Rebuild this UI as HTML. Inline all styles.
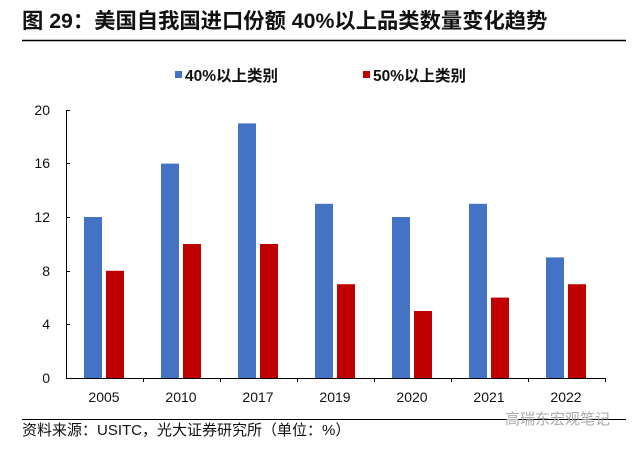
<!DOCTYPE html>
<html><head><meta charset="utf-8"><style>
body{margin:0;background:#fff;}
svg text{font-family:"Liberation Sans","Noto Sans CJK SC",sans-serif;}
</style></head><body>
<svg width="640" height="445" xmlns="http://www.w3.org/2000/svg">
<text x="22" y="28" font-size="21.3" font-weight="bold" fill="#111">图 29：美国自我国进口份额 40%以上品类数量变化趋势</text>
<line x1="22" y1="40.5" x2="626" y2="40.5" stroke="#000" stroke-width="1.5"/>
<rect x="175" y="71" width="7" height="7" fill="#4472C4"/>
<text x="185" y="81" font-size="15.5" font-weight="bold" fill="#111">40%以上类别</text>
<rect x="363" y="71" width="7" height="7" fill="#C00000"/>
<text x="373" y="81" font-size="15.5" font-weight="bold" fill="#111">50%以上类别</text>
<g font-size="14" fill="#111" text-anchor="end">
<text x="50" y="115">20</text><text x="50" y="168">16</text><text x="50" y="222">12</text>
<text x="50" y="276">8</text><text x="50" y="329">4</text><text x="50" y="383">0</text>
</g>
<g stroke="#000" stroke-width="1" fill="none">
<path d="M70 110.5H66.5V378.5H606"/>
<path d="M66.5 163.5H70M66.5 217.5H70M66.5 271.5H70M66.5 324.5H70"/>
<path d="M143.5 378v4M220.5 378v4M297.5 378v4M374.5 378v4M451.5 378v4M528.5 378v4M605.5 378v4"/>
</g>
<g fill="#4472C4">
<rect x="84" y="217" width="18" height="161"/>
<rect x="161" y="163.6" width="18" height="214.4"/>
<rect x="238" y="123.4" width="18" height="254.6"/>
<rect x="315" y="203.8" width="18" height="174.2"/>
<rect x="392" y="217" width="18" height="161"/>
<rect x="469" y="203.8" width="18" height="174.2"/>
<rect x="546" y="257.4" width="18" height="120.6"/>
</g>
<g fill="#C00000">
<rect x="106" y="270.8" width="18" height="107.2"/>
<rect x="183" y="244" width="18" height="134"/>
<rect x="260" y="244" width="18" height="134"/>
<rect x="337" y="284.2" width="18" height="93.8"/>
<rect x="414" y="311" width="18" height="67"/>
<rect x="491" y="297.6" width="18" height="80.4"/>
<rect x="568" y="284.2" width="18" height="93.8"/>
</g>
<g font-size="14" fill="#111" text-anchor="middle">
<text x="104" y="402">2005</text><text x="181" y="402">2010</text><text x="258" y="402">2017</text>
<text x="335" y="402">2019</text><text x="412" y="402">2020</text><text x="489" y="402">2021</text><text x="566" y="402">2022</text>
</g>
<line x1="22" y1="419.5" x2="626" y2="419.5" stroke="#000" stroke-width="1"/>
<text x="22" y="435" font-size="15" fill="#111">资料来源：USITC，光大证券研究所（单位：%）</text>
<text x="505" y="424" font-size="15" fill="#aaa">高瑞东宏观笔记</text>
</svg>
</body></html>
